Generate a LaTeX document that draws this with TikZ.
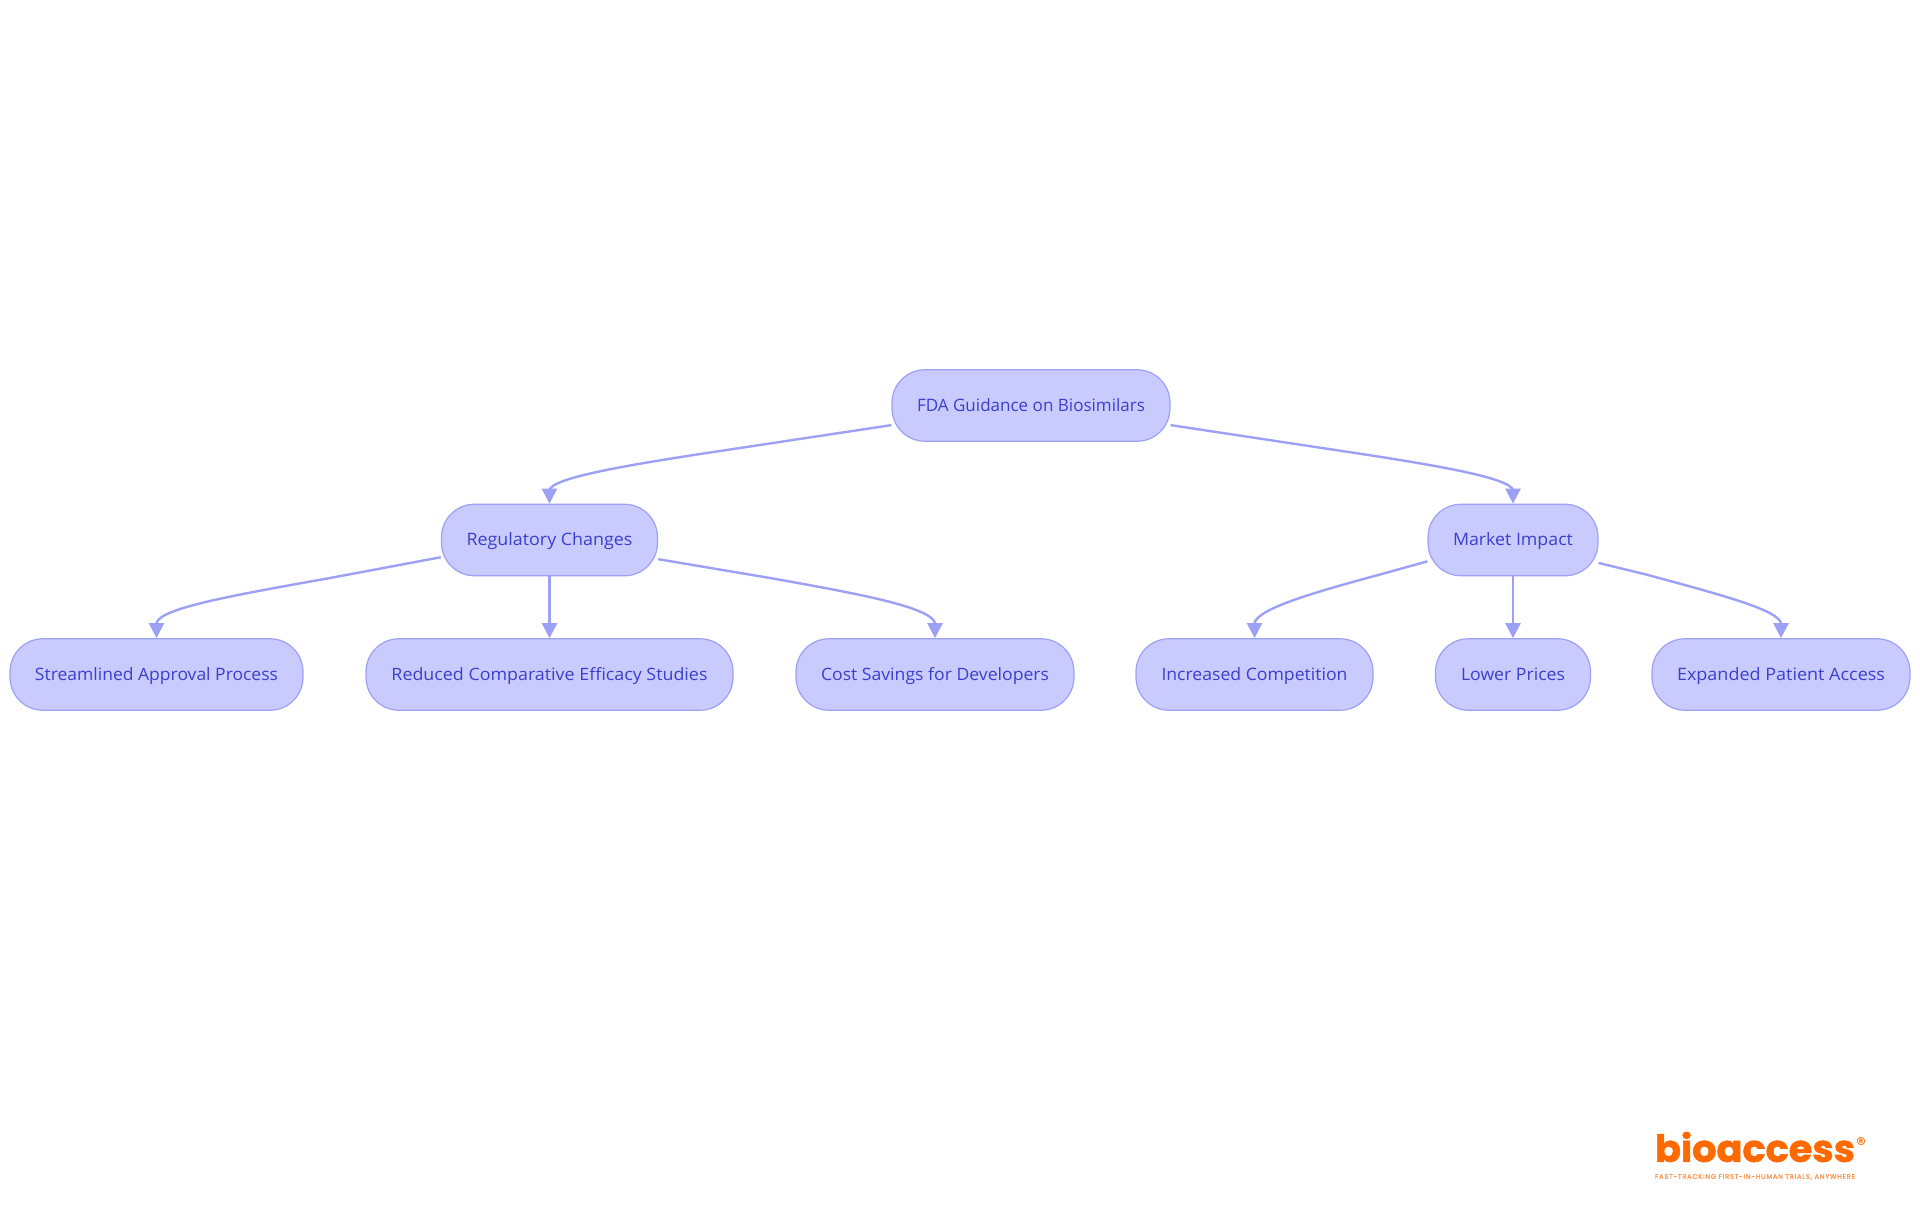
\documentclass[tikz,border=0pt]{standalone}
\usepackage{fontspec}
\setmainfont{Open Sans}
\newfontfamily\logofont{Poppins}[FakeBold=1.5]
\newfontfamily\markfont{DejaVu Sans}
\usetikzlibrary{arrows.meta}
\definecolor{nodefill}{HTML}{C9CBFF}
\definecolor{nodeline}{HTML}{9DA1F5}
\definecolor{nodetext}{HTML}{3B3FCB}
\definecolor{logoorange}{HTML}{FF6A00}
\newcommand\lbl[2]{\rule{0pt}{16pt}\resizebox{#1pt}{13pt}{\vphantom{dg}#2}}
\tikzset{
  x=1pt,y=-1pt,
  box/.style={draw=nodeline,fill=nodefill,line width=1.2pt,rounded corners=33pt,minimum height=71.5pt,inner sep=0pt,text=nodetext,font=\fontsize{16.6pt}{20pt}\selectfont},
  edge/.style={draw=nodeline,line width=2.4pt,-{Triangle[length=15pt,width=15pt]}},
}
\begin{document}
\begin{tikzpicture}
\useasboundingbox[fill=white] (0,0) rectangle (1920,1215);
\node[box,minimum width=278pt] (fda) at (1031,405.5) {\lbl{228}{FDA Guidance on Biosimilars}};
\node[box,minimum width=216pt] (reg) at (549.5,540) {\lbl{166}{Regulatory Changes}};
\node[box,minimum width=170pt] (mkt) at (1513,540) {\lbl{120}{Market Impact}};
\node[box,minimum width=293pt] (s1) at (156.5,674.5) {\lbl{243}{Streamlined Approval Process}};
\node[box,minimum width=367pt] (s2) at (549.5,674.5) {\lbl{316}{Reduced Comparative Efficacy Studies}};
\node[box,minimum width=278pt] (s3) at (935,674.5) {\lbl{228}{Cost Savings for Developers}};
\node[box,minimum width=237pt] (s4) at (1254.5,674.5) {\lbl{186}{Increased Competition}};
\node[box,minimum width=155pt] (s5) at (1513,674.5) {\lbl{104}{Lower Prices}};
\node[box,minimum width=258pt] (s6) at (1781,674.5) {\lbl{208}{Expanded Patient Access}};
\draw[edge] (fda.188) -- (720,451) .. controls (620,466) and (553,478) .. (549.5,490) -- (reg.north);
\draw[edge] (fda.352) -- (1342,451) .. controls (1442,466) and (1509,478) .. (1513,490) -- (mkt.north);
\draw[edge] (reg.189.5) -- (330,578) .. controls (235,595) and (160,608) .. (156.5,623) -- (s1.north);
\draw[edge] (reg.south) -- (s2.north);
\draw[edge] (reg.350.5) -- (770,578) .. controls (860,594) and (930,607) .. (935,623) -- (s3.north);
\draw[edge] (mkt.194.5) -- (1380,574.5) .. controls (1300,596) and (1258,610) .. (1254.5,623) -- (s4.north);
\draw[edge] (mkt.south) -- (s5.north);
\draw[edge] (mkt.345.5) -- (1646,574.5) .. controls (1726,596) and (1777,610) .. (1781,623) -- (s6.north);
\node[inner sep=0pt,text=logoorange,anchor=center] (logo) at (1755,1147) {\resizebox{200pt}{30pt}{\logofont\bfseries bioaccess}};
\node[inner sep=0pt,text=logoorange,anchor=center] (mark) at (1861,1142) {\markfont\bfseries\fontsize{11pt}{12pt}\selectfont ®};
\node[inner sep=0pt,text=logoorange!70,anchor=center] (tag) at (1755,1177) {\resizebox{200pt}{!}{\logofont\fontsize{7pt}{8pt}\selectfont\addfontfeature{LetterSpace=12}FAST-TRACKING FIRST-IN-HUMAN TRIALS, ANYWHERE}};
\end{tikzpicture}
\end{document}
